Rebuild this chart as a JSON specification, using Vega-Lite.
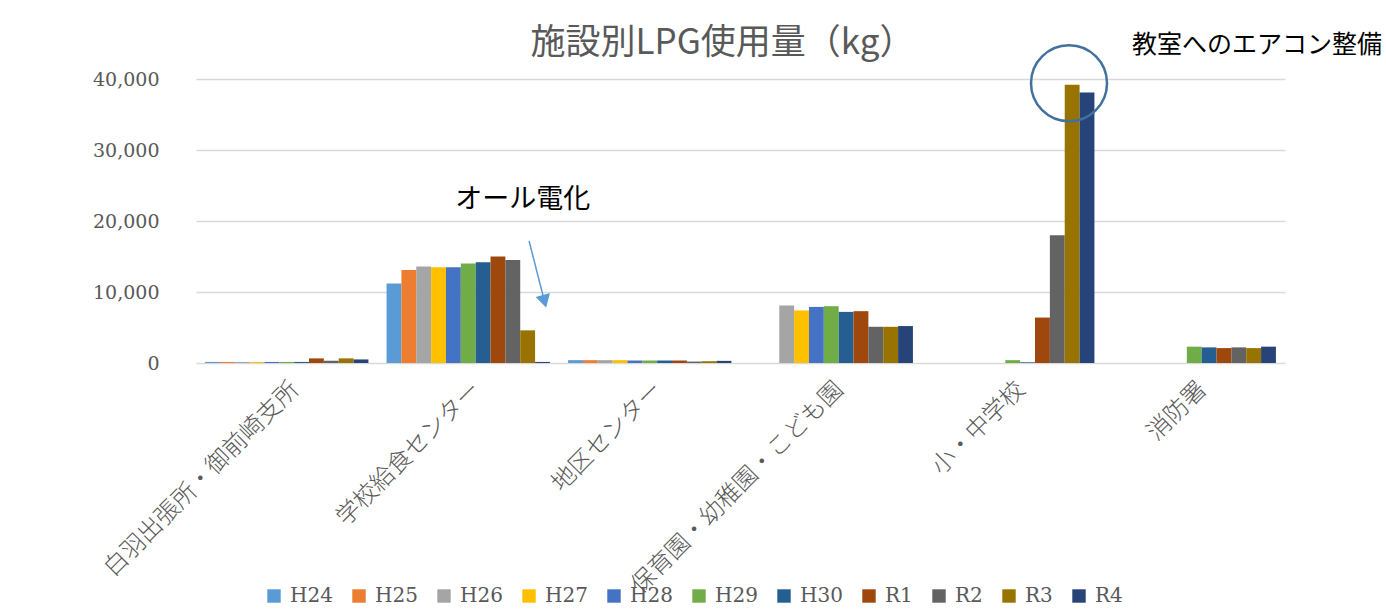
{
  "$schema": "https://vega.github.io/schema/vega-lite/v6.json",
  "width": 1089,
  "height": 284,
  "autosize": {"type": "none"},
  "padding": {"left": 196, "top": 79, "right": 101, "bottom": 248},
  "background": "white",
  "title": {"text": "施設別LPG使用量（kg）", "font": "Noto Sans CJK JP", "fontSize": 35, "fontWeight": "normal", "color": "#595959", "anchor": "middle", "dx": -18, "dy": 42, "offset": 14},
  "config": {"view": {"stroke": null}},
  "datasets": {
    "lpg": [
      {"facility": "白羽出張所・御前崎支所", "year": "H24", "kg": 150},
      {"facility": "白羽出張所・御前崎支所", "year": "H25", "kg": 150},
      {"facility": "白羽出張所・御前崎支所", "year": "H26", "kg": 150},
      {"facility": "白羽出張所・御前崎支所", "year": "H27", "kg": 150},
      {"facility": "白羽出張所・御前崎支所", "year": "H28", "kg": 150},
      {"facility": "白羽出張所・御前崎支所", "year": "H29", "kg": 150},
      {"facility": "白羽出張所・御前崎支所", "year": "H30", "kg": 150},
      {"facility": "白羽出張所・御前崎支所", "year": "R1", "kg": 650},
      {"facility": "白羽出張所・御前崎支所", "year": "R2", "kg": 300},
      {"facility": "白羽出張所・御前崎支所", "year": "R3", "kg": 650},
      {"facility": "白羽出張所・御前崎支所", "year": "R4", "kg": 500},
      {"facility": "学校給食センター", "year": "H24", "kg": 11200},
      {"facility": "学校給食センター", "year": "H25", "kg": 13100},
      {"facility": "学校給食センター", "year": "H26", "kg": 13600},
      {"facility": "学校給食センター", "year": "H27", "kg": 13500},
      {"facility": "学校給食センター", "year": "H28", "kg": 13500},
      {"facility": "学校給食センター", "year": "H29", "kg": 14000},
      {"facility": "学校給食センター", "year": "H30", "kg": 14200},
      {"facility": "学校給食センター", "year": "R1", "kg": 15000},
      {"facility": "学校給食センター", "year": "R2", "kg": 14500},
      {"facility": "学校給食センター", "year": "R3", "kg": 4600},
      {"facility": "学校給食センター", "year": "R4", "kg": 150},
      {"facility": "地区センター", "year": "H24", "kg": 400},
      {"facility": "地区センター", "year": "H25", "kg": 400},
      {"facility": "地区センター", "year": "H26", "kg": 400},
      {"facility": "地区センター", "year": "H27", "kg": 400},
      {"facility": "地区センター", "year": "H28", "kg": 350},
      {"facility": "地区センター", "year": "H29", "kg": 350},
      {"facility": "地区センター", "year": "H30", "kg": 350},
      {"facility": "地区センター", "year": "R1", "kg": 350},
      {"facility": "地区センター", "year": "R2", "kg": 200},
      {"facility": "地区センター", "year": "R3", "kg": 250},
      {"facility": "地区センター", "year": "R4", "kg": 300},
      {"facility": "保育園・幼稚園・こども園", "year": "H24", "kg": 0},
      {"facility": "保育園・幼稚園・こども園", "year": "H25", "kg": 0},
      {"facility": "保育園・幼稚園・こども園", "year": "H26", "kg": 8100},
      {"facility": "保育園・幼稚園・こども園", "year": "H27", "kg": 7400},
      {"facility": "保育園・幼稚園・こども園", "year": "H28", "kg": 7900},
      {"facility": "保育園・幼稚園・こども園", "year": "H29", "kg": 8000},
      {"facility": "保育園・幼稚園・こども園", "year": "H30", "kg": 7200},
      {"facility": "保育園・幼稚園・こども園", "year": "R1", "kg": 7300},
      {"facility": "保育園・幼稚園・こども園", "year": "R2", "kg": 5100},
      {"facility": "保育園・幼稚園・こども園", "year": "R3", "kg": 5100},
      {"facility": "保育園・幼稚園・こども園", "year": "R4", "kg": 5200},
      {"facility": "小・中学校", "year": "H24", "kg": 0},
      {"facility": "小・中学校", "year": "H25", "kg": 0},
      {"facility": "小・中学校", "year": "H26", "kg": 0},
      {"facility": "小・中学校", "year": "H27", "kg": 0},
      {"facility": "小・中学校", "year": "H28", "kg": 0},
      {"facility": "小・中学校", "year": "H29", "kg": 400},
      {"facility": "小・中学校", "year": "H30", "kg": 100},
      {"facility": "小・中学校", "year": "R1", "kg": 6400},
      {"facility": "小・中学校", "year": "R2", "kg": 18000},
      {"facility": "小・中学校", "year": "R3", "kg": 39200},
      {"facility": "小・中学校", "year": "R4", "kg": 38100},
      {"facility": "消防署", "year": "H24", "kg": 0},
      {"facility": "消防署", "year": "H25", "kg": 0},
      {"facility": "消防署", "year": "H26", "kg": 0},
      {"facility": "消防署", "year": "H27", "kg": 0},
      {"facility": "消防署", "year": "H28", "kg": 0},
      {"facility": "消防署", "year": "H29", "kg": 2300},
      {"facility": "消防署", "year": "H30", "kg": 2200},
      {"facility": "消防署", "year": "R1", "kg": 2100},
      {"facility": "消防署", "year": "R2", "kg": 2200},
      {"facility": "消防署", "year": "R3", "kg": 2100},
      {"facility": "消防署", "year": "R4", "kg": 2300}
    ],
    "notes": [
      {"label": "オール電化", "pos": 1.80, "kg": 23000},
      {"label": "教室へのエアコン整備", "pos": 5.846, "kg": 44800}
    ],
    "circle": [
      {"pos": 4.81, "kg": 39400}
    ],
    "arrow": [
      {"pos": 1.835, "kg": 17200, "pos2": 1.92, "kg2": 8700}
    ]
  },
  "layer": [
    {
      "data": {"name": "lpg"},
      "mark": {"type": "bar"},
      "encoding": {
        "x": {
          "field": "facility", "type": "nominal", "sort": null,
          "scale": {"paddingInner": 0.1, "paddingOuter": 0.05},
          "axis": {"title": null, "labelAngle": -45, "labelFont": "Noto Sans CJK JP", "labelFontSize": 24, "labelFontWeight": 300, "labelColor": "#595959", "ticks": false, "domain": false, "labelPadding": 14, "labelLimit": 0}
        },
        "xOffset": {"field": "year", "type": "nominal", "sort": null},
        "y": {
          "field": "kg", "type": "quantitative",
          "scale": {"domain": [0, 40000], "nice": false},
          "axis": {"title": null, "format": ",d", "values": [0, 10000, 20000, 30000, 40000], "labelFont": "DejaVu Serif", "labelFontSize": 19, "labelColor": "#595959", "ticks": false, "domain": false, "labelPadding": 37, "gridColor": "#D9D9D9", "gridWidth": 1.5}
        },
        "color": {
          "field": "year", "type": "nominal", "sort": null,
          "scale": {
            "domain": ["H24", "H25", "H26", "H27", "H28", "H29", "H30", "R1", "R2", "R3", "R4"],
            "range": ["#5B9BD5", "#ED7D31", "#A5A5A5", "#FFC000", "#4472C4", "#70AD47", "#255E91", "#9E480E", "#636363", "#997300", "#264478"]
          },
          "legend": {"title": null, "orient": "none", "legendX": 68, "legendY": 507, "direction": "horizontal", "columns": 11, "symbolType": "square", "symbolSize": 180, "symbolStrokeWidth": 0, "labelFont": "DejaVu Serif", "labelFontSize": 20, "labelColor": "#595959", "labelOffset": 6, "columnPadding": 16}
        }
      }
    },
    {
      "layer": [
        {
          "data": {"name": "notes"},
          "transform": [{"filter": "datum.label == 'オール電化'"}],
          "mark": {"type": "text", "font": "Noto Sans CJK JP", "fontSize": 27, "color": "#000000", "align": "center", "baseline": "middle"},
          "encoding": {
            "x": {"field": "pos", "type": "quantitative", "scale": {"domain": [0, 6], "nice": false, "zero": false}, "axis": null},
            "y": {"field": "kg", "type": "quantitative"},
            "text": {"field": "label"}
          }
        },
        {
          "data": {"name": "notes"},
          "transform": [{"filter": "datum.label != 'オール電化'"}],
          "mark": {"type": "text", "font": "Noto Sans CJK JP", "fontSize": 25, "color": "#000000", "align": "center", "baseline": "middle"},
          "encoding": {
            "x": {"field": "pos", "type": "quantitative", "axis": null},
            "y": {"field": "kg", "type": "quantitative"},
            "text": {"field": "label"}
          }
        },
        {
          "data": {"name": "circle"},
          "mark": {"type": "point", "shape": "circle", "size": 5776, "filled": false, "stroke": "#41719C", "strokeWidth": 2.5, "opacity": 1},
          "encoding": {
            "x": {"field": "pos", "type": "quantitative", "axis": null},
            "y": {"field": "kg", "type": "quantitative"}
          }
        },
        {
          "data": {"name": "arrow"},
          "mark": {"type": "rule", "color": "#5B9BD5", "strokeWidth": 1.5},
          "encoding": {
            "x": {"field": "pos", "type": "quantitative", "axis": null},
            "x2": {"field": "pos2"},
            "y": {"field": "kg", "type": "quantitative"},
            "y2": {"field": "kg2"}
          }
        },
        {
          "data": {"name": "arrow"},
          "mark": {"type": "point", "shape": "triangle-down", "size": 220, "filled": true, "color": "#5B9BD5", "angle": -15, "opacity": 1},
          "encoding": {
            "x": {"field": "pos2", "type": "quantitative", "axis": null},
            "y": {"field": "kg2", "type": "quantitative"}
          }
        }
      ]
    }
  ],
  "resolve": {"scale": {"x": "independent"}}
}
